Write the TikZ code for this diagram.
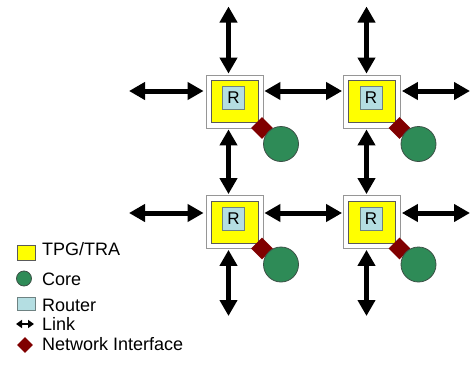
\documentclass[tikz,border=0pt]{standalone}
\usepackage{fontspec}
\setmainfont{Liberation Sans}
\usetikzlibrary{arrows.meta,shapes.geometric}

\definecolor{tpgyellow}{RGB}{255,255,0}
\definecolor{tpgedge}{RGB}{90,90,90}
\definecolor{tileedge}{RGB}{150,150,150}
\definecolor{routerblue}{RGB}{180,222,226}
\definecolor{routeredge}{RGB}{110,130,130}
\definecolor{nired}{RGB}{128,0,0}
\definecolor{coregreen}{RGB}{46,139,87}
\definecolor{coreedge}{RGB}{60,80,70}

\tikzset{
  tile/.style={draw=tileedge, fill=white, line width=0.8pt, minimum width=57pt, minimum height=53pt, inner sep=0pt},
  tpg/.style={draw=tpgedge, fill=tpgyellow, line width=0.8pt, minimum width=47pt, minimum height=42pt, inner sep=0pt},
  router/.style={draw=routeredge, fill=routerblue, line width=0.8pt, minimum width=22pt, minimum height=23pt, inner sep=0pt, font=\fontsize{17}{17}\selectfont},
  ni/.style={diamond, fill=nired, minimum size=22pt, inner sep=0pt},
  core/.style={circle, fill=coregreen, draw=coreedge, line width=0.8pt, minimum size=35pt, inner sep=0pt},
  link/.style={line width=5pt, {Triangle[width=17pt,length=16pt]}-{Triangle[width=17pt,length=16pt]}},
  minilink/.style={line width=2pt, {Triangle[width=8pt,length=6pt]}-{Triangle[width=8pt,length=6pt]}},
  legtext/.style={anchor=base west, inner sep=0pt, font=\fontsize{18}{18}\selectfont},
}

\begin{document}
\begin{tikzpicture}[x=1pt,y=-1pt]
\useasboundingbox (0,0) rectangle (471,364);

% tiles of the 2x2 mesh: frame, TPG/TRA, router, network interface, core
\foreach \c/\x in {1/234.5,2/372}{
  \foreach \r/\y in {1/101.5,2/222}{
    \node[tile] (t\r\c) at (\x,\y) {};
    \node[tpg] (g\r\c) at (\x,\y) {};
    \node[router] (rt\r\c) at (\x-1,\y-3.5) {R};
    \node[ni] (ni\r\c) at (\x+27.5,\y+26.5) {};
    \node[core] (co\r\c) at (\x+46.5,\y+42.5) {};
  }
}

% free ends of the outer links
\coordinate (n1) at (228.5,6.5);
\coordinate (n2) at (366.5,6.5);
\coordinate (s1) at (228.5,316);
\coordinate (s2) at (366.5,316);
\coordinate (w1) at (129,91);
\coordinate (w2) at (129,213);
\coordinate (e1) at (470,91);
\coordinate (e2) at (470,213);

% vertical links
\draw[link] (n1) -- ([yshift=1pt]t11.north -| n1);
\draw[link] ([yshift=-1pt]t11.south -| n1) -- ([yshift=1pt]t21.north -| n1);
\draw[link] ([yshift=-1pt]t21.south -| s1) -- (s1);
\draw[link] (n2) -- ([yshift=1pt]t12.north -| n2);
\draw[link] ([yshift=-1pt]t12.south -| n2) -- ([yshift=1pt]t22.north -| n2);
\draw[link] ([yshift=-1pt]t22.south -| s2) -- (s2);

% horizontal links
\draw[link] (w1) -- ([xshift=-2pt]t11.west |- w1);
\draw[link] ([xshift=1pt]t11.east |- w1) -- ([xshift=-1pt]t12.west |- w1);
\draw[link] ([xshift=1pt]t12.east |- e1) -- (e1);
\draw[link] (w2) -- ([xshift=-2pt]t21.west |- w2);
\draw[link] ([xshift=1pt]t21.east |- w2) -- ([xshift=-1pt]t22.west |- w2);
\draw[link] ([xshift=1pt]t22.east |- e2) -- (e2);

% legend
\node[draw=tpgedge, fill=tpgyellow, line width=0.8pt, minimum width=18pt, minimum height=15pt, inner sep=0pt] (lg1) at (26,252.5) {};
\node[legtext] (lt1) at (42,255) {TPG/TRA};
\node[circle, fill=coregreen, draw=coreedge, line width=0.8pt, minimum size=15pt, inner sep=0pt] (lg2) at (24,278.5) {};
\node[legtext] (lt2) at (42,285) {Core};
\node[draw=routeredge, fill=routerblue, line width=0.8pt, minimum width=18pt, minimum height=13pt, inner sep=0pt] (lg3) at (26,304) {};
\node[legtext] (lt3) at (42,311.5) {Router};
\coordinate (la) at (16,324);
\coordinate (lb) at (34,324);
\draw[minilink] (la) -- (lb);
\node[legtext] (lt4) at (42,330) {Link};
\node[ni, minimum size=16pt] (lg5) at (25,345) {};
\node[legtext] (lt5) at (42,350.5) {Network Interface};
\end{tikzpicture}
\end{document}
